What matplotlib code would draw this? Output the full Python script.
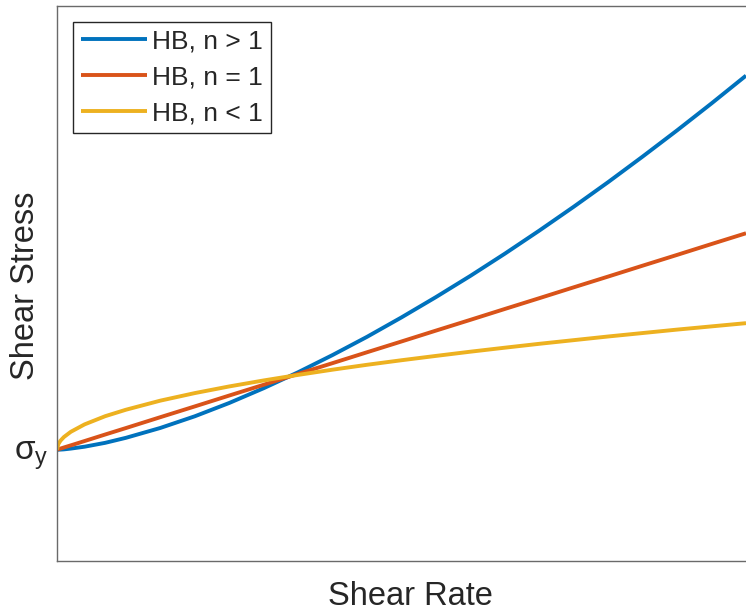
import matplotlib
matplotlib.use("Agg")
import matplotlib.pyplot as plt

plt.rcParams['font.family'] = ['Liberation Sans', 'DejaVu Sans']
plt.rcParams['mathtext.fontset'] = 'custom'
plt.rcParams['mathtext.rm'] = 'Liberation Sans'

# shear rate samples (denser near zero where n < 1 rises steeply)
shear_rate = [0.0, 0.002, 0.005, 0.01, 0.02, 0.04, 0.07, 0.1, 0.15, 0.2, 0.25,
              0.3, 0.35, 0.4, 0.45, 0.5, 0.55, 0.6, 0.65, 0.7, 0.75, 0.8, 0.85,
              0.9, 0.95, 1.0]

# stress values (sigma_y = 1)
stress_n_gt_1 = [1.000, 1.000, 1.001, 1.003, 1.010, 1.027, 1.062, 1.107, 1.196, 1.301, 1.421,
                 1.554, 1.698, 1.853, 2.017, 2.192, 2.375, 2.566, 2.766, 2.974, 3.189,
                 3.411, 3.641, 3.877, 4.120, 4.370]
stress_n_eq_1 = [1.000, 1.004, 1.010, 1.020, 1.039, 1.078, 1.137, 1.195, 1.293, 1.390, 1.488,
                 1.585, 1.683, 1.780, 1.878, 1.975, 2.073, 2.170, 2.268, 2.365, 2.463,
                 2.560, 2.658, 2.755, 2.853, 2.950]
stress_n_lt_1 = [1.000, 1.051, 1.081, 1.114, 1.161, 1.228, 1.302, 1.360, 1.442, 1.510, 1.570,
                 1.624, 1.674, 1.721, 1.765, 1.806, 1.845, 1.883, 1.919, 1.954, 1.987,
                 2.020, 2.051, 2.082, 2.111, 2.140]

labels = ['HB, n > 1', 'HB, n = 1', 'HB, n < 1']
colors = ['#0072BD', '#D95319', '#EDB120']
sigma_y = 1.0

fig = plt.figure(figsize=(7.46, 6.11), dpi=100)
ax = fig.add_axes([57 / 746, 50.3 / 611, 689 / 746, 555 / 611])

for ys, lab, c in zip([stress_n_gt_1, stress_n_eq_1, stress_n_lt_1], labels, colors):
    ax.plot(shear_rate, ys, color=c, lw=2.8, label=lab, solid_capstyle='butt')

ax.set_xlim(0, 1)
ax.set_ylim(0, 5)
ax.set_xticks([])
ax.set_yticks([sigma_y])
ax.set_yticklabels([r'$\mathregular{\sigma_y}$'], fontsize=24, color='#262626')
ax.tick_params(axis='y', length=0, pad=6)

for side in ['left', 'bottom', 'top']:
    ax.spines[side].set_color('#6a6a6a')
    ax.spines[side].set_linewidth(1.0)
ax.spines['right'].set_visible(False)

ax.set_xlabel('Shear Rate', fontsize=23.5, color='#262626')
ax.xaxis.set_label_coords(353 / 689, -20 / 555)
ax.xaxis.label.set_va('top')
ax.set_ylabel('Shear Stress', fontsize=23.5, color='#262626')
ax.yaxis.set_label_coords(-16 / 689, 0.495)

leg = ax.legend(loc='upper left', fontsize=19, frameon=True, fancybox=False,
                framealpha=1, edgecolor='#262626', borderaxespad=0.6,
                handlelength=2.5, handletextpad=0.2, labelspacing=0.45,
                borderpad=0.3)
leg.get_frame().set_linewidth(1.0)
for t in leg.get_texts():
    t.set_color('#262626')

fig.savefig('out.png', dpi=100)
